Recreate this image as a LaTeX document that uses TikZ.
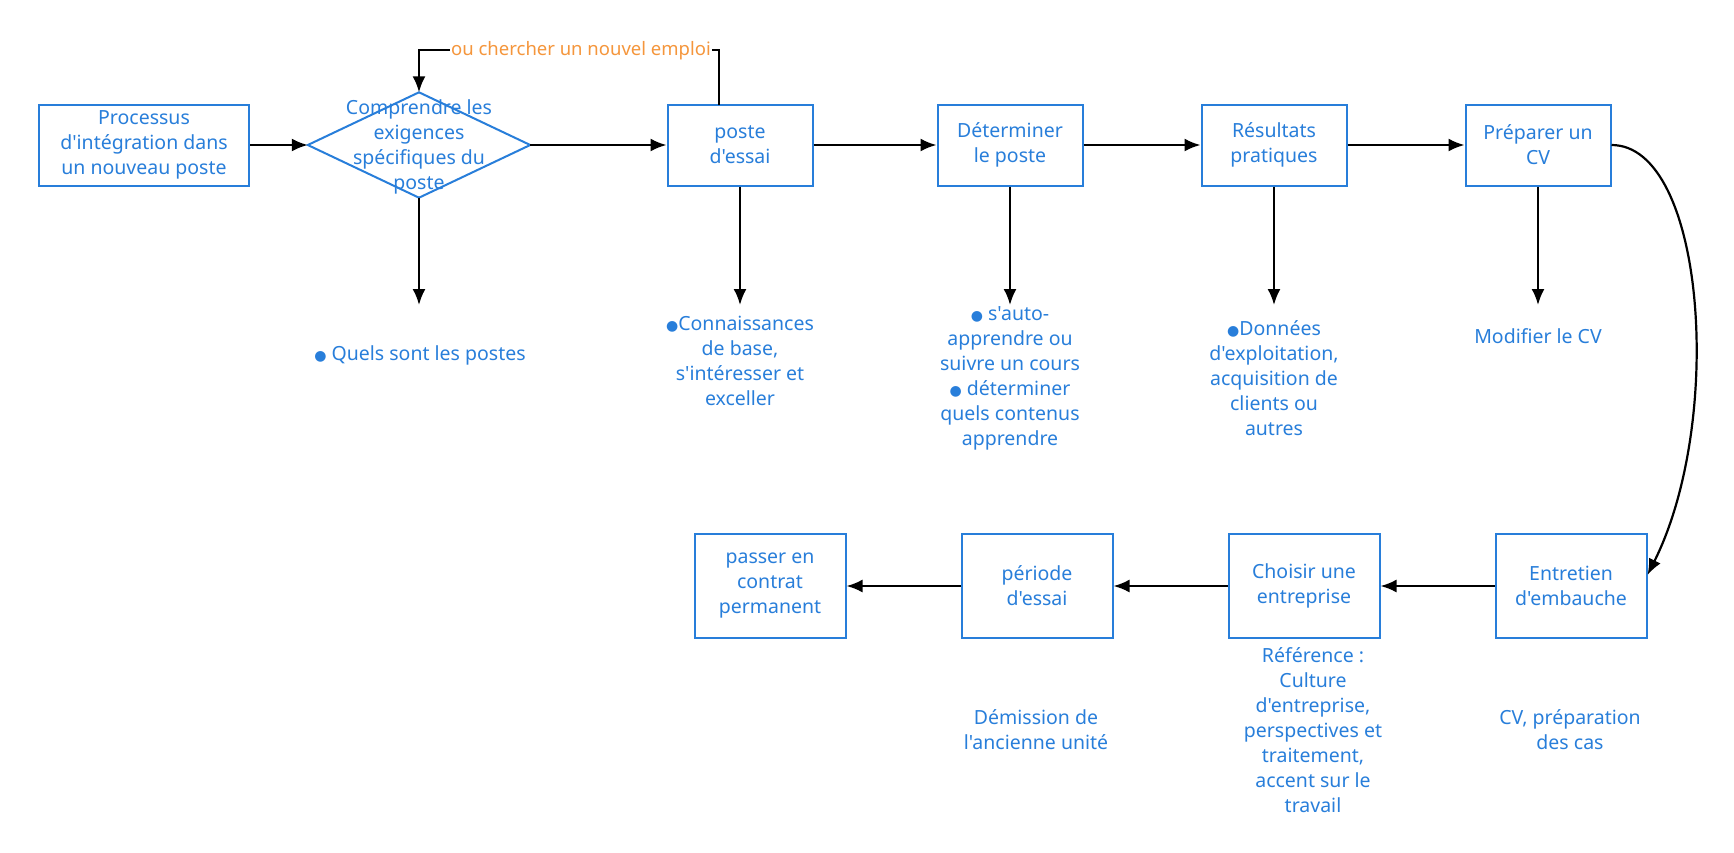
\documentclass[tikz,border=0pt]{standalone}
\usepackage{fontspec}
\setmainfont{Noto Sans}[Ligatures=TeXOff]
\newfontfamily\dejavu{DejaVu Sans}
\newcommand\bul{{\dejavu\fontsize{14}{14}\selectfont ●}}
\usetikzlibrary{arrows.meta,calc}
\definecolor{bblue}{RGB}{40,126,218}
\definecolor{lorange}{RGB}{245,150,60}
\begin{document}
\begin{tikzpicture}[x=1pt,y=-1pt,
  every node/.style={font=\fontsize{19.5}{25}\selectfont, text=bblue, align=center, inner sep=0pt},
  stepbox/.style={draw=bblue, line width=2pt, fill=white, minimum width=145pt, minimum height=81pt},
  lowbox/.style={draw=bblue, line width=2pt, fill=white, minimum width=151pt, minimum height=104pt},
  lbl/.style={},
  arr/.style={draw=black, line width=2.2pt, -{Latex[length=16pt,width=13pt]}}
]
\useasboundingbox (0,0) rectangle (1734,852);
% top row
\node[stepbox, minimum width=210pt] (start) at (144,145) {Processus\\d'intégration dans\\un nouveau poste};
\node[minimum width=222pt, minimum height=105pt] (dia) at (419,145) {};
\draw[bblue, line width=2pt, fill=white] (dia.west) -- (dia.north) -- (dia.east) -- (dia.south) -- cycle;
\node at (419,147) {Comprendre les\\exigences\\spécifiques du\\poste};
\node[stepbox] (essai) at (740,145) {poste\\d'essai};
\node[stepbox] (det) at (1010,145) {Déterminer\\le poste};
\node[stepbox] (res) at (1274,145) {Résultats\\pratiques};
\node[stepbox] (prep) at (1538,145) {Préparer un\\CV};
% bottom row
\node[lowbox] (perm) at (770,586) {passer en\\contrat\\permanent};
\node[lowbox] (per) at (1037,586) {période\\d'essai};
\node[lowbox] (choi) at (1304,586) {Choisir une\\entreprise};
\node[lowbox] (entre) at (1571,586) {Entretien\\d'embauche};
% labels
\node[lbl] (l1) at (420,355) {\bul{} Quels sont les postes};
\node[lbl] (l2) at (740,361) {\bul Connaissances\\de base,\\s'intéresser et\\exceller};
\node[lbl] (l3) at (1010,378) {\bul{} s'auto-\\apprendre ou\\suivre un cours\\\bul{} déterminer\\quels contenus\\apprendre};
\node[lbl] (l4) at (1274,378) {\bul Données\\d'exploitation,\\acquisition de\\clients ou\\autres};
\node[lbl] (l5) at (1538,336) {Modifier le CV};
\node[lbl] (l6) at (1036,730) {Démission de\\l'ancienne unité};
\node[lbl] (l7) at (1313,730) {Référence :\\Culture\\d'entreprise,\\perspectives et\\traitement,\\accent sur le\\travail};
\node[lbl] (l8) at (1570,730) {CV, préparation\\des cas};
% arrow ends
\coordinate (e1) at (419,305);
\coordinate (e2) at (740,305);
\coordinate (e3) at (1010,305);
\coordinate (e4) at (1274,305);
\coordinate (e5) at (1538,305);
\coordinate (loopstart) at (719,105);
\coordinate (looptop) at (719,50);
% horizontal connectors
\draw[arr] (start) -- (dia.west);
\draw[arr] (dia.east) -- (essai);
\draw[arr] (essai) -- (det);
\draw[arr] (det) -- (res);
\draw[arr] (res) -- (prep);
\draw[arr] (entre) -- (choi);
\draw[arr] (choi) -- (per);
\draw[arr] (per) -- (perm);
% down connectors
\draw[arr] (dia.south) -- (e1);
\draw[arr] (essai) -- (e2);
\draw[arr] (det) -- (e3);
\draw[arr] (res) -- (e4);
\draw[arr] (prep) -- (e5);
% loop
\draw[arr] (loopstart) -- (looptop) -| (dia.north);
\node[fill=white, text=lorange, inner xsep=1pt, inner ysep=2pt, font=\fontsize{18.5}{23}\selectfont, anchor=east] (loopl) at (712,51) {ou chercher un nouvel emploi};
% curve
\draw[arr] (prep.east) .. controls (1705,145) and (1725,420) .. ([yshift=11pt]entre.east);
\end{tikzpicture}
\end{document}
